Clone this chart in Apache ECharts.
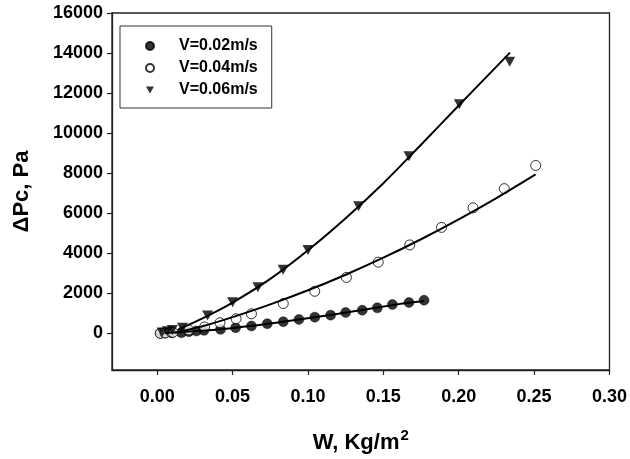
<!DOCTYPE html>
<html>
<head>
<meta charset="utf-8">
<script src="https://cdn.jsdelivr.net/npm/echarts@6/dist/echarts.min.js"></script>
<style>
html,body{margin:0;padding:0;background:#fff;}
#chart{width:630px;height:459px;}
</style>
</head>
<body>
<div id="chart"></div>
<script>
// ---- data ----
const xTicks = [0, 0.05, 0.10, 0.15, 0.20, 0.25, 0.30];
const yTicks = [0, 2000, 4000, 6000, 8000, 10000, 12000, 14000, 16000];

const seriesNames = ['V=0.02m/s', 'V=0.04m/s', 'V=0.06m/s'];

const W_02 = [0.002, 0.005, 0.0095, 0.016, 0.021, 0.026, 0.031, 0.042, 0.052, 0.0625, 0.073, 0.0836, 0.094, 0.1045, 0.115, 0.125, 0.136, 0.146, 0.156, 0.167, 0.177];
const P_02 = [0, 15, 25, 35, 85, 118, 150, 199, 283, 366, 480, 579, 695, 810, 910, 1042, 1158, 1274, 1439, 1538, 1654];

const W_04 = [0.002, 0.0052, 0.0104, 0.0209, 0.0314, 0.0416, 0.0523, 0.0625, 0.0836, 0.1045, 0.1255, 0.1466, 0.1675, 0.1886, 0.2095, 0.2302, 0.2511];
const P_04 = [0, 20, 50, 170, 320, 530, 730, 976, 1489, 2101, 2795, 3556, 4416, 5293, 6269, 7228, 8385];

const W_06 = [0.0033, 0.0067, 0.010, 0.0167, 0.0334, 0.050, 0.0668, 0.0835, 0.100, 0.1336, 0.167, 0.2004, 0.2338];
const P_06 = [40, 100, 170, 285, 893, 1555, 2299, 3176, 4168, 6351, 8849, 11446, 13563];

// fitted curves
const FIT_W_02 = [0.005, 0.04, 0.08, 0.12, 0.16, 0.177];
const FIT_P_02 = [15, 190, 545, 976, 1460, 1620];
const FIT_W_04 = [0.012, 0.03, 0.05, 0.075, 0.10, 0.125, 0.15, 0.175, 0.20, 0.225, 0.251];
const FIT_P_04 = [30, 352, 809, 1445, 2151, 2929, 3778, 4700, 5693, 6757, 7939];
const FIT_W_06 = [0.014, 0.03, 0.05, 0.075, 0.10, 0.125, 0.15, 0.175, 0.20, 0.234];
const FIT_P_06 = [200, 750, 1540, 2720, 4150, 5750, 7500, 9420, 11380, 14020];

const pairs = (xs, ys) => xs.map((x, i) => [x, ys[i]]);

const FONT = 'Liberation Sans, Arial, sans-serif';
const AX = '#222';
const downTri = 'path://M0,0L10,0L5,9Z';

const chart = echarts.init(document.getElementById('chart'), null, {renderer: 'canvas'});

const fitLine = (name, xs, ys) => ({
  name: name, type: 'line', data: pairs(xs, ys), smooth: 0.3,
  showSymbol: false, symbol: 'none', z: 4, silent: true,
  lineStyle: {color: '#000', width: 2}
});

chart.setOption({
  animation: false,
  backgroundColor: '#fff',
  grid: {left: 112, right: 19, top: 13, bottom: 86, show: true,
         borderColor: AX, borderWidth: 1.3, backgroundColor: 'transparent'},
  legend: {
    orient: 'vertical', left: 120, top: 26,
    data: [
      {name: seriesNames[0], icon: 'circle'},
      {name: seriesNames[1], icon: 'circle'},
      {name: seriesNames[2], icon: downTri}
    ],
    itemWidth: 8, itemHeight: 8, itemGap: 6,
    padding: [12, 14, 10, 25],
    borderColor: '#333', borderWidth: 1,
    selectedMode: false,
    textStyle: {fontFamily: FONT, fontWeight: 'bold', fontSize: 16, color: '#000', padding: [0, 0, 0, 20]}
  },
  xAxis: {
    type: 'value', min: -0.03, max: 0.30,
    splitLine: {show: false},
    axisLine: {show: true, onZero: false, lineStyle: {color: AX, width: 1.3}},
    axisTick: {show: true, inside: false, length: 5, customValues: xTicks, lineStyle: {color: AX, width: 1.2}},
    axisLabel: {customValues: xTicks, formatter: v => v.toFixed(2), margin: 18,
                fontFamily: FONT, fontWeight: 'bold', fontSize: 18, color: '#000'},
    name: '{a|W, Kg/m}{b|2}', nameLocation: 'middle', nameGap: 58,
    nameTextStyle: {
      rich: {
        a: {fontFamily: FONT, fontWeight: 'bold', fontSize: 22, color: '#000'},
        b: {fontFamily: FONT, fontWeight: 'bold', fontSize: 15, color: '#000', padding: [0, 0, 15, 1]}
      }
    }
  },
  yAxis: {
    type: 'value', min: -1830, max: 16000,
    splitLine: {show: false},
    axisLine: {show: true, onZero: false, lineStyle: {color: AX, width: 1.3}},
    axisTick: {show: true, inside: false, length: 5, customValues: yTicks, lineStyle: {color: AX, width: 1.2}},
    axisLabel: {customValues: yTicks, formatter: v => String(Math.round(v)), margin: 9,
                fontFamily: FONT, fontWeight: 'bold', fontSize: 18, color: '#000'},
    name: 'ΔPc, Pa', nameLocation: 'middle', nameGap: 79, nameRotate: 90,
    nameTextStyle: {fontFamily: FONT, fontWeight: 'bold', fontSize: 22, color: '#000'}
  },
  series: [
    {name: seriesNames[0], type: 'scatter', data: pairs(W_02, P_02), symbol: 'circle', symbolSize: 10, z: 3,
     itemStyle: {color: '#000', borderColor: '#000', borderWidth: 0.5}},
    {name: seriesNames[1], type: 'scatter', data: pairs(W_04, P_04), symbol: 'circle', symbolSize: 10, z: 3,
     itemStyle: {color: '#fff', borderColor: '#000', borderWidth: 1}},
    {name: seriesNames[2], type: 'scatter', data: pairs(W_06, P_06), symbol: downTri, symbolSize: [11, 10], z: 3,
     itemStyle: {color: '#000'}},
    fitLine('fit 0.02', FIT_W_02, FIT_P_02),
    fitLine('fit 0.04', FIT_W_04, FIT_P_04),
    fitLine('fit 0.06', FIT_W_06, FIT_P_06)
  ]
});
</script>
</body>
</html>
